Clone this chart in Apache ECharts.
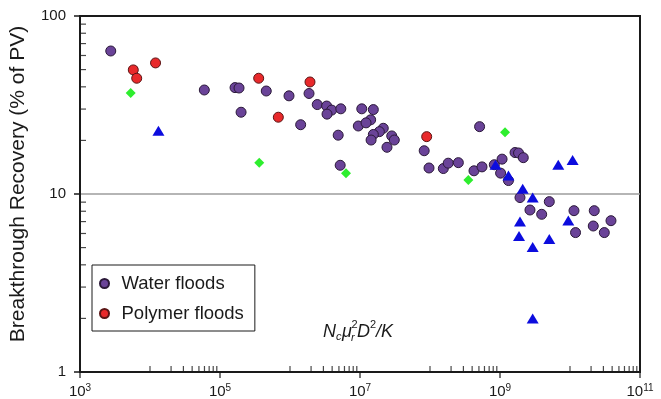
<!DOCTYPE html>
<html>
<head>
<meta charset="utf-8">
<script src="https://cdn.jsdelivr.net/npm/echarts@6/dist/echarts.min.js"></script>
<style>
  html, body { margin: 0; padding: 0; background: #fff; }
  #chart { width: 661px; height: 399px; }
</style>
</head>
<body>
<div id="chart"></div>
<script>
// values: [x, breakthrough recovery %]
const waterFloods = [
  [2.75e3, 63.6], [5.97e4, 38.4], [1.64e5, 39.6], [1.87e5, 39.4], [2.0e5, 28.8],
  [4.58e5, 37.9], [9.68e5, 35.6], [1.87e6, 36.7], [2.45e6, 31.8], [3.34e6, 31.2],
  [3.94e6, 29.6], [3.38e6, 28.1], [5.32e6, 30.1], [1.42e6, 24.5], [4.88e6, 21.4],
  [5.21e6, 14.5], [1.06e7, 30.1], [1.55e7, 29.8], [9.46e6, 24.1], [1.42e7, 26.1],
  [1.22e7, 25.1], [2.15e7, 23.4], [1.89e7, 22.4], [1.55e7, 21.6], [1.44e7, 20.1],
  [2.84e7, 21.2], [3.09e7, 20.1], [2.43e7, 18.3], [8.26e7, 17.5], [9.68e7, 14.0],
  [5.11e8, 23.9], [1.55e8, 13.9], [1.82e8, 14.9], [2.54e8, 15.0], [4.25e8, 13.5],
  [5.53e8, 14.2], [8.29e8, 14.6], [1.07e9, 15.7], [1.02e9, 13.1], [1.32e9, 11.9],
  [1.64e9, 17.1], [1.84e9, 17.0], [2.15e9, 16.0], [1.93e9, 9.55], [5.06e9, 9.06],
  [2.68e9, 8.13], [3.94e9, 7.69], [1.14e10, 8.06], [2.22e10, 8.06], [3.85e10, 7.08],
  [1.2e10, 6.07], [2.15e10, 6.61], [3.09e10, 6.07]
];
const polymerFloods = [
  [5.77e3, 49.8], [6.46e3, 44.7], [1.2e4, 54.5], [3.57e5, 44.7], [1.93e6, 42.6],
  [6.81e5, 27.0], [8.97e7, 21.0]
];
const greenDiamonds = [
  [5.3e3, 36.9], [3.64e5, 15.0], [6.31e6, 13.1], [3.53e8, 12.0], [1.18e9, 22.2]
];
const blueTriangles = [
  [1.32e4, 22.7], [8.63e8, 14.6], [1.32e9, 12.7], [2.11e9, 10.7], [2.93e9, 9.55],
  [6.8e9, 14.6], [1.09e10, 15.5], [1.93e9, 7.0], [9.46e9, 7.09], [1.87e9, 5.81],
  [5.06e9, 5.58], [2.93e9, 5.03], [2.93e9, 2.0]
];

// axis tick positions
const xMajorTickValues = [1e3, 1e5, 1e7, 1e9, 1e11];
const xMinorDecades = [1e4, 1e6, 1e8, 1e10];
const yMinorDecades = [1, 10];
const minorSteps = [1, 2, 3, 4, 5, 6, 7, 8, 9];

const FONT = '"Liberation Sans", Arial, Helvetica, sans-serif';
const INK = '#1a1a1a';

const xMinorTicks = xMinorDecades.flatMap(d => minorSteps.map(k => [k * d, 1]));
const yMinorTicks = yMinorDecades.flatMap(d => minorSteps.slice(1).map(k => [1e3, k * d]));
const xMajorTicks = xMajorTickValues.map(v => [v, 1]);

function tickSeries(data, size, offset) {
  return {
    type: 'scatter',
    data: data,
    symbol: 'rect',
    symbolSize: size,
    symbolOffset: offset,
    itemStyle: { color: INK },
    silent: true,
    clip: false,
    z: 5
  };
}

function formulaText(x, y, text, size, italic) {
  return {
    type: 'text',
    x: x,
    y: y,
    style: {
      text: text,
      font: (italic ? 'italic ' : '') + size + 'px ' + FONT,
      fill: INK,
      textVerticalAlign: 'middle'
    }
  };
}

const chart = echarts.init(document.getElementById('chart'), null, { renderer: 'canvas' });
chart.setOption({
  animation: false,
  grid: {
    left: 80, right: 21, top: 16, bottom: 27,
    outerBoundsMode: 'none',
    containLabel: false,
    show: true, borderColor: INK, borderWidth: 2, backgroundColor: 'transparent'
  },
  legend: {
    data: ['Water floods', 'Polymer floods'],
    orient: 'vertical',
    left: 92,
    top: 265,
    padding: [9, 11, 8, 7],
    itemGap: 11,
    itemWidth: 24,
    itemHeight: 9,
    borderColor: INK,
    borderWidth: 1,
    textStyle: { fontSize: 18.5, color: INK, fontFamily: FONT }
  },
  xAxis: {
    type: 'log',
    logBase: 10,
    min: 1e3,
    max: 1e11,
    axisLine: { lineStyle: { color: INK, width: 2 } },
    axisTick: { show: false },
    splitLine: { show: false },
    axisLabel: {
      margin: 11,
      color: INK,
      fontFamily: FONT,
      formatter: function (v) {
        const e = Math.round(Math.log10(v));
        return e % 2 === 1 ? '{b|10}{s|' + e + '}' : '';
      },
      rich: {
        b: { fontSize: 15, fontFamily: FONT, color: INK },
        s: { fontSize: 10, fontFamily: FONT, color: INK, padding: [0, 0, 8, 0] }
      }
    }
  },
  yAxis: {
    type: 'log',
    logBase: 10,
    min: 1,
    max: 100,
    axisLine: { lineStyle: { color: INK, width: 2 } },
    axisTick: { show: true, length: 6, lineStyle: { color: INK, width: 1.5 } },
    splitLine: {
      show: true, showMinLine: false, showMaxLine: false,
      lineStyle: { color: '#9c9c9c', width: 1.5 }
    },
    axisLabel: { fontSize: 15, color: INK, fontFamily: FONT, margin: 14 }
  },
  graphic: [
    {
      type: 'text',
      x: 18,
      y: 184,
      rotation: Math.PI / 2,
      style: {
        text: 'Breakthrough Recovery (% of PV)',
        font: '21px ' + FONT,
        fill: INK,
        textAlign: 'center',
        textVerticalAlign: 'middle'
      }
    },
    formulaText(323, 332, 'N', 18, true),
    formulaText(336, 337, 'c', 11, true),
    formulaText(342, 332, 'μ', 18, true),
    formulaText(351.5, 325, '2', 11, false),
    formulaText(351, 338, 'r', 11, true),
    formulaText(357, 332, 'D', 18, true),
    formulaText(370, 325, '2', 11, false),
    formulaText(376, 332, '/K', 18, true)
  ],
  series: [
    {
      name: 'Water floods',
      type: 'scatter',
      data: waterFloods,
      symbol: 'circle',
      symbolSize: 10,
      itemStyle: { color: '#6a4398', borderColor: '#2a1838', borderWidth: 1, opacity: 1 },
      z: 2
    },
    {
      name: 'Polymer floods',
      type: 'scatter',
      data: polymerFloods,
      symbol: 'circle',
      symbolSize: 10,
      itemStyle: { color: '#e8292b', borderColor: '#5a1414', borderWidth: 1, opacity: 1 },
      z: 2
    },
    {
      name: 'Green diamonds',
      type: 'scatter',
      data: greenDiamonds,
      symbol: 'diamond',
      symbolSize: 10,
      itemStyle: { color: '#2eee2e', opacity: 1 },
      z: 3
    },
    {
      name: 'Blue triangles',
      type: 'scatter',
      data: blueTriangles,
      symbol: 'triangle',
      symbolSize: [12, 10],
      itemStyle: { color: '#0c0cde', opacity: 1 },
      z: 3
    },
    tickSeries(xMinorTicks, [1.2, 6], [0, -3]),
    tickSeries(xMajorTicks, [1.5, 6], [0, 3]),
    tickSeries(yMinorTicks, [6, 1.2], [3, 0])
  ]
});
</script>
</body>
</html>
